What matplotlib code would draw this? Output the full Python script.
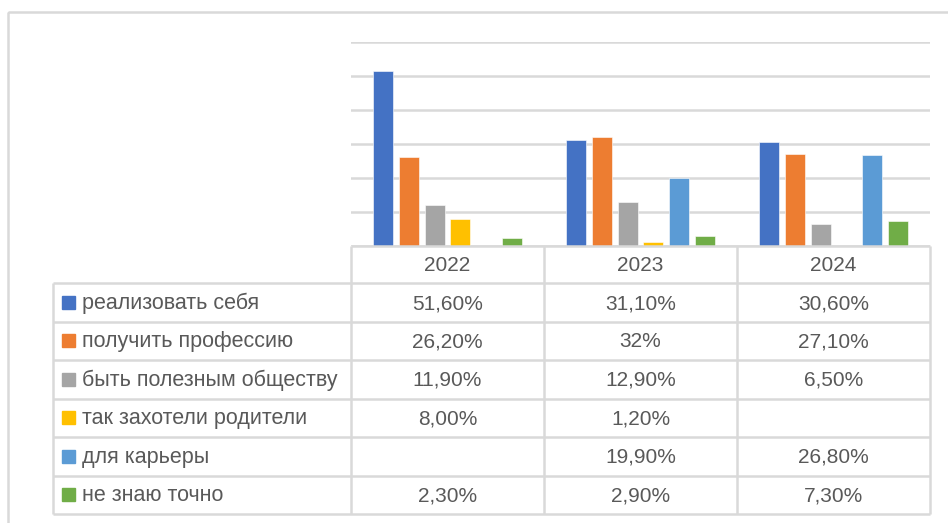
import numpy as np
import matplotlib.pyplot as plt
from matplotlib.patches import Rectangle

plt.rcParams['font.family'] = ['Liberation Sans', 'DejaVu Sans']

# data
years = ['2022', '2023', '2024']
series = ['реализовать себя', 'получить профессию', 'быть полезным обществу',
          'так захотели родители', 'для карьеры', 'не знаю точно']
realize = [51.6, 31.1, 30.6]
profession = [26.2, 32.0, 27.1]
useful = [11.9, 12.9, 6.5]
parents = [8.0, 1.2, None]
career = [None, 19.9, 26.8]
unsure = [2.3, 2.9, 7.3]
cell_text = [
    ['51,60%', '31,10%', '30,60%'],
    ['26,20%', '32%', '27,10%'],
    ['11,90%', '12,90%', '6,50%'],
    ['8,00%', '1,20%', ''],
    ['', '19,90%', '26,80%'],
    ['2,30%', '2,90%', '7,30%'],
]
colors = ['#4472C4', '#ED7D31', '#A5A5A5', '#FFC000', '#5B9BD5', '#70AD47']

values = [realize, profession, useful, parents, career, unsure]

W, H = 948, 523
fig = plt.figure(figsize=(W / 100, H / 100), dpi=100)
grid_c = '#D9D9D9'
text_c = '#595959'

# layout in pixels
plot_l, plot_r = 351, 930
plot_t, plot_b = 42, 245.7
label_l = 53
row_h = 38.45
head_b = 283.3

def fx(x):
    return x / W

def fy(y):
    return 1 - y / H

# bar chart
ax = fig.add_axes([fx(plot_l), fy(plot_b), fx(plot_r - plot_l), fy(plot_t) - fy(plot_b)])
x = np.arange(len(years))
width = 0.103
step = 0.134
for i, (vals, c) in enumerate(zip(values, colors)):
    v = np.array([np.nan if a is None else a for a in vals])
    ax.bar(x + (i - 2.5) * step, v, width, color=c, edgecolor='white', linewidth=0.4, zorder=3)
ax.set_xlim(-0.5, 2.5)
ax.set_ylim(0, 60)
ax.set_yticks(np.arange(0, 61, 10))
ax.yaxis.grid(True, color=grid_c, linewidth=1.8, zorder=0)
ax.set_xticks([])
ax.tick_params(left=False, labelleft=False)
for s in ax.spines.values():
    s.set_visible(False)

# table overlay in pixel coords
tb = fig.add_axes([0, 0, 1, 1], facecolor='none')
tb.set_xlim(0, W)
tb.set_ylim(H, 0)
tb.axis('off')

col_edges = [plot_l + (plot_r - plot_l) * k / 3 for k in range(4)]
n_rows = len(series)
row_edges = [head_b + row_h * k for k in range(n_rows + 1)]
lk = dict(color=grid_c, linewidth=1.8, solid_capstyle='butt')

# header
tb.plot([plot_l, plot_r], [plot_b, plot_b], **lk)
for xe in col_edges:
    tb.plot([xe, xe], [plot_b, row_edges[-1]], **lk)
for j, yr in enumerate(years):
    cx = (col_edges[j] + col_edges[j + 1]) / 2
    tb.text(cx, (plot_b + head_b) / 2 + 1, yr, ha='center', va='center', fontsize=15, color=text_c)

# rows
for ye in row_edges:
    tb.plot([label_l, plot_r], [ye, ye], **lk)
tb.plot([label_l, label_l], [row_edges[0], row_edges[-1]], **lk)
for i, name in enumerate(series):
    cy = (row_edges[i] + row_edges[i + 1]) / 2
    tb.add_patch(Rectangle((62, cy - 6.5), 13, 13, color=colors[i]))
    tb.text(82, cy + 1, name, ha='left', va='center', fontsize=15.5, color=text_c)
    for j in range(3):
        cx = (col_edges[j] + col_edges[j + 1]) / 2
        tb.text(cx, cy + 1, cell_text[i][j], ha='center', va='center', fontsize=15, color=text_c)

# outer chart border
tb.add_patch(Rectangle((8, 12), W, H, fill=False, edgecolor=grid_c, linewidth=1.8))

fig.savefig('out.png', dpi=100)
